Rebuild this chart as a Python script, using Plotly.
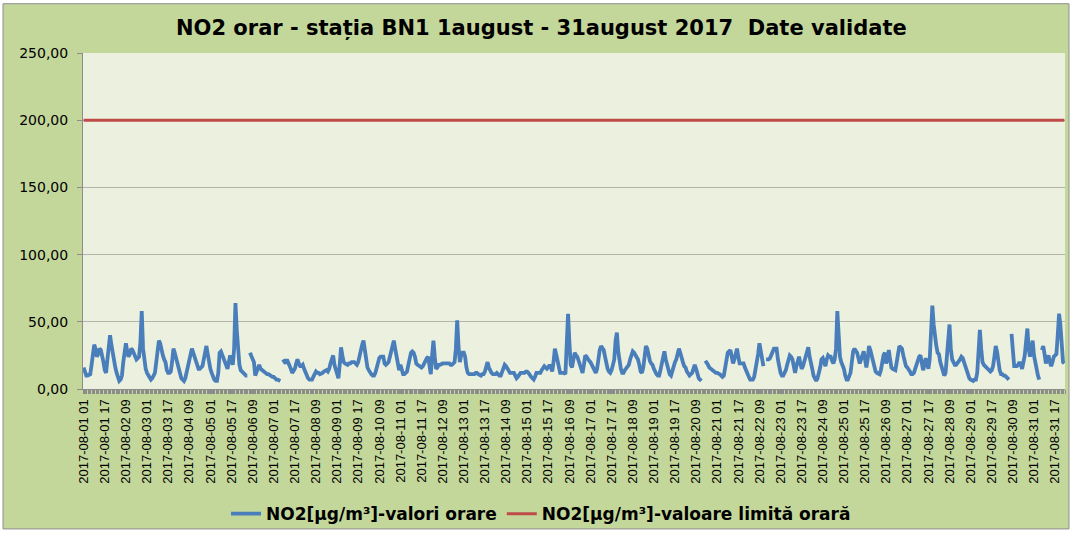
import plotly.graph_objects as go
import pandas as pd

# Hourly NO2 values (µg/m³), 2017-08-01 01 ... 2017-08-31 24 (None = missing hour)
day01 = [16, 12, 10, 10, 11, 11, 18, 27, 33, 30, 24, 26, 30, 29, 25, 20, 14, 12, 22, 31, 40, 33, 26, 21]
day02 = [16, 12, 8, 6, 7, 10, 20, 30, 34, 28, 24, 26, 30, 29, 26, 24, 22, 23, 24, 35, 58, 30, 20, 15]
day03 = [12, 10, 8, 7, 8, 10, 12, 20, 30, 36, 34, 28, 25, 22, 20, 14, 12, 12, 13, 20, 30, 27, 23, 20]
day04 = [15, 10, 8, 7, 6, 8, 12, 17, 20, 25, 30, 27, 24, 20, 17, 15, 15, 16, 17, 22, 28, 32, 26, 19]
day05 = [15, 12, 9, 7, 6, 6, 12, 27, 28, 25, 24, 20, 16, 15, 20, 25, 22, 18, 30, 64, 44, 26, 18, 14]
day06 = [13, 12, 11, 10, 10, None, 27, 25, 23, 20, 10, 13, 17, 18, 15, 14, 14, 13, 12, 11, 11, 10, 10, 9]
day07 = [9, 8, 7, 7, 6, 6, None, 22, 21, 19, 22, 20, 18, 15, 12, 13, 15, 19, 22, 19, 17, 17, 18, 15]
day08 = [12, 10, 8, 7, 7, 7, 9, 12, 13, 12, 12, 11, 12, 12, 13, 14, 14, 13, 15, 19, 23, 25, 18, 14]
day09 = [11, 8, 18, 31, 25, 20, 19, 18, 18, 19, 19, 20, 20, 20, 19, 18, 20, 25, 29, 33, 36, 28, 20, 16]
day10 = [14, 12, 11, 10, 10, 12, 16, 20, 23, 24, 24, 24, 19, 18, 19, 20, 24, 28, 32, 36, 30, 24, 18, 14]
day11 = [18, 14, 11, 11, 12, 13, 18, 24, 27, 28, 27, 24, 19, 18, 17, 16, 16, 17, 19, 22, 23, 24, 16, 11]
day12 = [25, 36, 24, 15, 16, 18, 18, 19, 19, 19, 19, 19, 19, 19, 18, 18, 19, 20, 30, 51, 32, 20, 25, 27]
day13 = [27, 24, 16, 12, 11, 11, 11, 11, 11, 12, 12, 11, 10, 10, 11, 11, 13, 17, 20, 16, 13, 12, 11, 11]
day14 = [11, 12, 11, 10, 10, 13, 16, 18, 17, 15, 13, 12, 12, 12, 12, 10, 8, 9, 11, 12, 12, 12, 12, 13]
day15 = [13, 12, 10, 9, 8, 7, 9, 12, 12, 12, 12, 14, 16, 17, 16, 15, 16, 18, 16, 13, 20, 30, 26, 20]
day16 = [15, 12, 12, 12, 12, 11, 28, 56, 35, 18, 16, 22, 27, 25, 24, 21, 18, 14, 12, 18, 25, 24, 22, 21]
day17 = [20, 18, 15, 13, 12, 15, 24, 29, 32, 31, 29, 24, 18, 15, 13, 12, 14, 18, 22, 36, 42, 28, 20, 15]
day18 = [12, 12, 14, 15, 17, 18, 22, 26, 28, 27, 25, 24, 22, 18, 13, 12, 16, 24, 32, 30, 24, 21, 19, 18]
day19 = [15, 12, 11, 10, 10, 14, 19, 24, 28, 22, 18, 14, 11, 10, 14, 18, 20, 22, 26, 30, 27, 22, 20, 17]
day20 = [16, 13, 11, 10, 11, 12, 15, 18, 15, 11, 8, 7, 6, None, None, 21, 20, 18, 16, 15, 14, 13, 13, 12]
day21 = [12, 11, 11, 10, 9, 10, 15, 21, 27, 28, 29, 24, 19, 22, 28, 30, 24, 19, 19, 19, 19, 16, 13, 11]
day22 = [9, 7, 7, 7, 9, 14, 20, 26, 34, 28, 20, 17, None, 22, 22, 22, 23, 25, 28, 30, 30, 30, 22, 15]
day23 = [12, 10, 10, 12, 14, 18, 22, 25, 24, 22, 17, 12, 17, 22, 24, 19, 15, 17, 21, 24, 28, 31, 24, 17]
day24 = [15, 10, 7, 6, 8, 11, 16, 22, 23, 20, 17, 22, 25, 24, 24, 21, 19, 22, 30, 58, 40, 24, 20, 18]
day25 = [15, 10, 7, 7, 9, 12, 20, 28, 30, 29, 27, 23, 19, 22, 26, 28, 22, 16, 22, 32, 29, 25, 22, 18]
day26 = [13, 12, 11, 11, 14, 20, 25, 27, 19, 22, 29, 22, 16, 15, 14, 14, 20, 28, 32, 31, 30, 25, 19, 17]
day27 = [16, 15, 13, 11, 11, 12, 15, 19, 23, 24, 25, 19, 14, 18, 23, 19, 15, 22, 45, 62, 48, 38, 32, 27]
day28 = [26, 20, 16, 12, 10, 12, 22, 35, 48, 30, 22, 20, 18, 18, 19, 20, 22, 24, 23, 20, 17, 12, 9, 8]
day29 = [7, 6, 6, 7, 7, 12, 25, 44, 30, 20, 18, 17, 15, 15, 14, 13, 14, 17, 24, 32, 28, 19, 14, 11]
day30 = [11, 10, 10, 9, 8, 7, None, 41, 25, 17, 17, 17, 18, 20, 18, 15, 20, 25, 35, 45, 30, 24, 30, 36]
day31 = [25, 19, 12, 10, 7, None, 29, 32, 26, 19, 22, 25, 20, 17, 20, 24, 25, 26, 40, 56, 48, 30, 20, 19]

no2_hourly = (day01 + day02 + day03 + day04 + day05 + day06 + day07 + day08 + day09 + day10
              + day11 + day12 + day13 + day14 + day15 + day16 + day17 + day18 + day19 + day20
              + day21 + day22 + day23 + day24 + day25 + day26 + day27 + day28 + day29 + day30 + day31)

limit_hourly = [200.0] * len(no2_hourly)

hour_labels = pd.date_range("2017-08-01 01:00", periods=len(no2_hourly), freq="h").strftime("%Y-%m-%d %H").tolist()
tick_step = 16
tick_index = list(range(0, len(no2_hourly), tick_step))
tick_labels = [hour_labels[i] for i in tick_index]
x_index = list(range(len(no2_hourly)))

series_names = ["NO2[µg/m³]-valori orare", "NO2[µg/m³]-valoare limită orară"]
title_text = "NO2 orar - stația BN1 1august - 31august 2017\u00a0 Date validate"

W, H = 1072, 539
L, R, T, B = 83, 7, 53, 145
pw, ph = W - L - R, H - T - B


def px_x(p):
    return (p - L) / pw


def px_y(p):
    return (H - B - p) / ph


fig = go.Figure()
fig.add_trace(go.Scatter(x=x_index, y=no2_hourly, mode="lines", name=series_names[0],
                         text=hour_labels, connectgaps=False,
                         line=dict(color="#4a7ebb", width=3.8)))
fig.add_trace(go.Scatter(x=x_index, y=limit_hourly, mode="lines", name=series_names[1],
                         text=hour_labels,
                         line=dict(color="#be4b48", width=3)))

fig.update_layout(
    width=W, height=H,
    margin=dict(l=L, r=R, t=T, b=B),
    paper_bgcolor="white",
    plot_bgcolor="#ebf1de",
    separators=",.",
    font=dict(family="DejaVu Sans", color="black"),
    title=dict(text="<b>" + title_text + "</b>", font=dict(family="DejaVu Sans", size=21, color="black"),
               x=0.505, xref="container", xanchor="center",
               y=1 - 28 / H, yref="container", yanchor="middle"),
    showlegend=True,
    legend=dict(orientation="h", x=px_x(226), xanchor="left", y=px_y(521), yanchor="middle",
                bgcolor="rgba(0,0,0,0)", font=dict(family="DejaVu Sans", size=17, color="black", weight="bold"),
                itemwidth=30, tracegroupgap=0),
    shapes=[
        dict(type="rect", xref="paper", yref="paper", x0=px_x(3), x1=px_x(1069), y0=px_y(536), y1=px_y(3),
             fillcolor="#c4d79b", line=dict(color="#8c8c8c", width=1), layer="below"),
        dict(type="rect", xref="paper", yref="paper", x0=0, x1=1, y0=0, y1=1,
             fillcolor="#ebf1de", line=dict(width=0), layer="below"),
    ],
)

fig.update_xaxes(range=[-0.5, len(no2_hourly) - 0.5], tickmode="array", tickvals=tick_index, ticktext=tick_labels,
                 tickangle=-90, tickfont=dict(family="Liberation Sans", size=13, color="black"),
                 ticks="outside", ticklen=4, tickcolor="#8c8c8c", showline=True, linecolor="#8c8c8c",
                 linewidth=1, showgrid=False, zeroline=False,
                 minor=dict(ticks="outside", ticklen=4, tickcolor="#8c8c8c", dtick=1, tick0=-0.5, showgrid=False))
fig.update_yaxes(range=[0, 250], tick0=0, dtick=50, tickformat=".2f",
                 tickfont=dict(family="DejaVu Sans", size=14, color="black"),
                 ticks="outside", ticklen=5, tickcolor="#8c8c8c", ticklabelstandoff=6,
                 showline=True, linecolor="#8c8c8c", linewidth=1,
                 showgrid=True, gridcolor="#b4b4aa", gridwidth=1, zeroline=False)

fig.write_html("out.html", config={"displayModeBar": False},
               post_script="document.body.style.margin='0';document.body.style.overflow='hidden';")
